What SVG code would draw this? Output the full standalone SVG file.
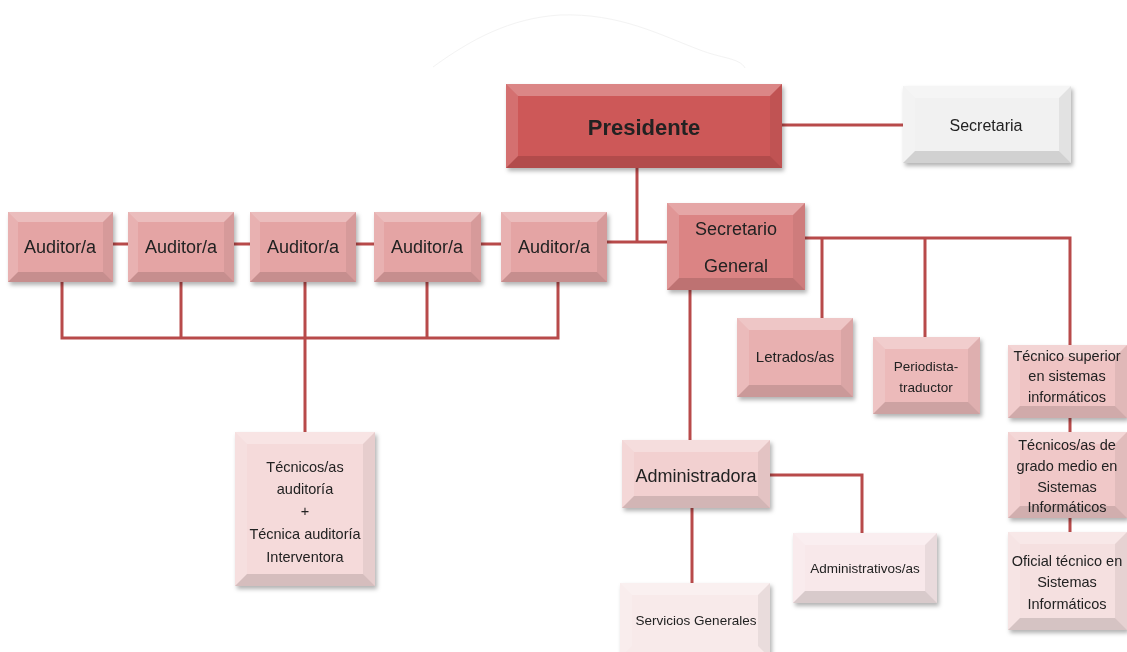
<svg xmlns="http://www.w3.org/2000/svg" width="1127" height="652" viewBox="0 0 1127 652">
<style>
.c{fill:none;stroke:#b84a4a;stroke-width:3}
.hl{fill:#fff;fill-opacity:.28}
.hs{fill:#fff;fill-opacity:.15}
.dk{fill:#000;fill-opacity:.06}
.db{fill:#000;fill-opacity:.13}
text{font-family:"Liberation Sans",Arial,sans-serif;fill:#222;text-anchor:middle}
.t18{font-size:18px}
.t14{font-size:14.5px}
.t13{font-size:13.5px}
</style>
<defs>
<filter id="sh" x="-10%" y="-10%" width="125%" height="130%">
<feDropShadow dx="2" dy="3" stdDeviation="2" flood-color="#000" flood-opacity=".3"/>
</filter>
</defs>
<rect width="1127" height="652" fill="#fff"/>
<path d="M433,67 C470,40 510,18 560,15 C620,13 660,35 700,50 C720,58 740,58 745,68" fill="none" stroke="#f3f3f3" stroke-width="1"/>

<g id="connectors">
<path class="c" d="M782,125 H903"/>
<path class="c" d="M637,168 V242"/>
<path class="c" d="M113,244 H128 M234,244 H250 M356,244 H374 M481,244 H501 M607,242 H667"/>
<path class="c" d="M62,282 V338 H558 V282 M181,282 V338 M305,282 V432 M427,282 V338"/>
<path class="c" d="M805,238 H1070 V345 M822,238 V318 M925,238 V337"/>
<path class="c" d="M1070,418 V432 M1070,518 V532"/>
<path class="c" d="M690,290 V440"/>
<path class="c" d="M770,475 H862 V533"/>
<path class="c" d="M692,508 V583"/>
</g>

<g id="presidente" filter="url(#sh)">
<rect x="506" y="84" width="276" height="84" fill="#cd5858"/>
<polygon class="hl" points="506,84 782,84 770,96 518,96"/>
<polygon class="hs" points="506,84 518,96 518,156 506,168"/>
<polygon class="dk" points="782,84 782,168 770,156 770,96"/>
<polygon class="db" points="506,168 518,156 770,156 782,168"/>
<text x="644" y="135" style="font-size:22px;font-weight:bold">Presidente</text>
</g>

<g id="secretaria" filter="url(#sh)">
<rect x="903" y="86" width="168" height="77" fill="#f1f1f1"/>
<polygon class="hl" points="903,86 1071,86 1059,98 915,98"/>
<polygon class="hs" points="903,86 915,98 915,151 903,163"/>
<polygon class="dk" points="1071,86 1071,163 1059,151 1059,98"/>
<polygon class="db" points="903,163 915,151 1059,151 1071,163"/>
<text x="986" y="131" style="font-size:16px">Secretaria</text>
</g>

<g id="auditor1" filter="url(#sh)">
<rect x="8" y="212" width="105" height="70" fill="#e4a4a4"/>
<polygon class="hl" points="8,212 113,212 103,222 18,222"/>
<polygon class="hs" points="8,212 18,222 18,272 8,282"/>
<polygon class="dk" points="113,212 113,282 103,272 103,222"/>
<polygon class="db" points="8,282 18,272 103,272 113,282"/>
<text class="t18" x="60" y="253">Auditor/a</text>
</g>
<g id="auditor2" filter="url(#sh)">
<rect x="128" y="212" width="106" height="70" fill="#e4a4a4"/>
<polygon class="hl" points="128,212 234,212 224,222 138,222"/>
<polygon class="hs" points="128,212 138,222 138,272 128,282"/>
<polygon class="dk" points="234,212 234,282 224,272 224,222"/>
<polygon class="db" points="128,282 138,272 224,272 234,282"/>
<text class="t18" x="181" y="253">Auditor/a</text>
</g>
<g id="auditor3" filter="url(#sh)">
<rect x="250" y="212" width="106" height="70" fill="#e4a4a4"/>
<polygon class="hl" points="250,212 356,212 346,222 260,222"/>
<polygon class="hs" points="250,212 260,222 260,272 250,282"/>
<polygon class="dk" points="356,212 356,282 346,272 346,222"/>
<polygon class="db" points="250,282 260,272 346,272 356,282"/>
<text class="t18" x="303" y="253">Auditor/a</text>
</g>
<g id="auditor4" filter="url(#sh)">
<rect x="374" y="212" width="107" height="70" fill="#e4a4a4"/>
<polygon class="hl" points="374,212 481,212 471,222 384,222"/>
<polygon class="hs" points="374,212 384,222 384,272 374,282"/>
<polygon class="dk" points="481,212 481,282 471,272 471,222"/>
<polygon class="db" points="374,282 384,272 471,272 481,282"/>
<text class="t18" x="427" y="253">Auditor/a</text>
</g>
<g id="auditor5" filter="url(#sh)">
<rect x="501" y="212" width="106" height="70" fill="#e4a4a4"/>
<polygon class="hl" points="501,212 607,212 597,222 511,222"/>
<polygon class="hs" points="501,212 511,222 511,272 501,282"/>
<polygon class="dk" points="607,212 607,282 597,272 597,222"/>
<polygon class="db" points="501,282 511,272 597,272 607,282"/>
<text class="t18" x="554" y="253">Auditor/a</text>
</g>

<g id="secretario-general" filter="url(#sh)">
<rect x="667" y="203" width="138" height="87" fill="#db8484"/>
<polygon class="hl" points="667,203 805,203 793,215 679,215"/>
<polygon class="hs" points="667,203 679,215 679,278 667,290"/>
<polygon class="dk" points="805,203 805,290 793,278 793,215"/>
<polygon class="db" points="667,290 679,278 793,278 805,290"/>
<text class="t18" x="736" y="235">Secretario</text>
<text class="t18" x="736" y="272">General</text>
</g>

<g id="letrados" filter="url(#sh)">
<rect x="737" y="318" width="116" height="79" fill="#e8b0b0"/>
<polygon class="hl" points="737,318 853,318 841,330 749,330"/>
<polygon class="hs" points="737,318 749,330 749,385 737,397"/>
<polygon class="dk" points="853,318 853,397 841,385 841,330"/>
<polygon class="db" points="737,397 749,385 841,385 853,397"/>
<text x="795" y="362" style="font-size:15px">Letrados/as</text>
</g>

<g id="periodista" filter="url(#sh)">
<rect x="873" y="337" width="107" height="77" fill="#ecbaba"/>
<polygon class="hl" points="873,337 980,337 968,349 885,349"/>
<polygon class="hs" points="873,337 885,349 885,402 873,414"/>
<polygon class="dk" points="980,337 980,414 968,402 968,349"/>
<polygon class="db" points="873,414 885,402 968,402 980,414"/>
<text class="t13" x="926" y="371">Periodista-</text>
<text class="t13" x="926" y="392">traductor</text>
</g>

<g id="tecnico-superior" filter="url(#sh)">
<rect x="1008" y="345" width="119" height="73" fill="#efc4c4"/>
<polygon class="hl" points="1008,345 1127,345 1115,357 1020,357"/>
<polygon class="hs" points="1008,345 1020,357 1020,406 1008,418"/>
<polygon class="dk" points="1127,345 1127,418 1115,406 1115,357"/>
<polygon class="db" points="1008,418 1020,406 1115,406 1127,418"/>
<text class="t14" x="1067" y="361">Técnico superior</text>
<text class="t14" x="1067" y="381">en sistemas</text>
<text class="t14" x="1067" y="402">informáticos</text>
</g>

<g id="tecnicos-auditoria" filter="url(#sh)">
<rect x="235" y="432" width="140" height="154" fill="#f5dada"/>
<polygon class="hl" points="235,432 375,432 363,444 247,444"/>
<polygon class="hs" points="235,432 247,444 247,574 235,586"/>
<polygon class="dk" points="375,432 375,586 363,574 363,444"/>
<polygon class="db" points="235,586 247,574 363,574 375,586"/>
<text class="t14" x="305" y="472">Técnicos/as</text>
<text class="t14" x="305" y="494">auditoría</text>
<text class="t14" x="305" y="516">+</text>
<text class="t14" x="305" y="539">Técnica auditoría</text>
<text class="t14" x="305" y="562">Interventora</text>
</g>

<g id="administradora" filter="url(#sh)">
<rect x="622" y="440" width="148" height="68" fill="#f2d0d0"/>
<polygon class="hl" points="622,440 770,440 758,452 634,452"/>
<polygon class="hs" points="622,440 634,452 634,496 622,508"/>
<polygon class="dk" points="770,440 770,508 758,496 758,452"/>
<polygon class="db" points="622,508 634,496 758,496 770,508"/>
<text class="t18" x="696" y="482">Administradora</text>
</g>

<g id="administrativos" filter="url(#sh)">
<rect x="793" y="533" width="144" height="70" fill="#f8e8ea"/>
<polygon class="hl" points="793,533 937,533 925,545 805,545"/>
<polygon class="hs" points="793,533 805,545 805,591 793,603"/>
<polygon class="dk" points="937,533 937,603 925,591 925,545"/>
<polygon class="db" points="793,603 805,591 925,591 937,603"/>
<text class="t13" x="865" y="573">Administrativos/as</text>
</g>

<g id="servicios-generales" filter="url(#sh)">
<rect x="620" y="583" width="150" height="75" fill="#f8eaea"/>
<polygon class="hl" points="620,583 770,583 758,595 632,595"/>
<polygon class="hs" points="620,583 632,595 632,646 620,658"/>
<polygon class="dk" points="770,583 770,658 758,646 758,595"/>
<text class="t13" x="696" y="625">Servicios Generales</text>
</g>

<g id="tecnicos-grado-medio" filter="url(#sh)">
<rect x="1008" y="432" width="119" height="86" fill="#f0c8c8"/>
<polygon class="hl" points="1008,432 1127,432 1115,444 1020,444"/>
<polygon class="hs" points="1008,432 1020,444 1020,506 1008,518"/>
<polygon class="dk" points="1127,432 1127,518 1115,506 1115,444"/>
<polygon class="db" points="1008,518 1020,506 1115,506 1127,518"/>
<text class="t14" x="1067" y="450">Técnicos/as de</text>
<text class="t14" x="1067" y="471">grado medio en</text>
<text class="t14" x="1067" y="492">Sistemas</text>
<text class="t14" x="1067" y="512">Informáticos</text>
</g>

<g id="oficial-tecnico" filter="url(#sh)">
<rect x="1008" y="532" width="119" height="98" fill="#f5e0e0"/>
<polygon class="hl" points="1008,532 1127,532 1115,544 1020,544"/>
<polygon class="hs" points="1008,532 1020,544 1020,618 1008,630"/>
<polygon class="dk" points="1127,532 1127,630 1115,618 1115,544"/>
<polygon class="db" points="1008,630 1020,618 1115,618 1127,630"/>
<text class="t14" x="1067" y="566">Oficial técnico en</text>
<text class="t14" x="1067" y="587">Sistemas</text>
<text class="t14" x="1067" y="609">Informáticos</text>
</g>
</svg>
